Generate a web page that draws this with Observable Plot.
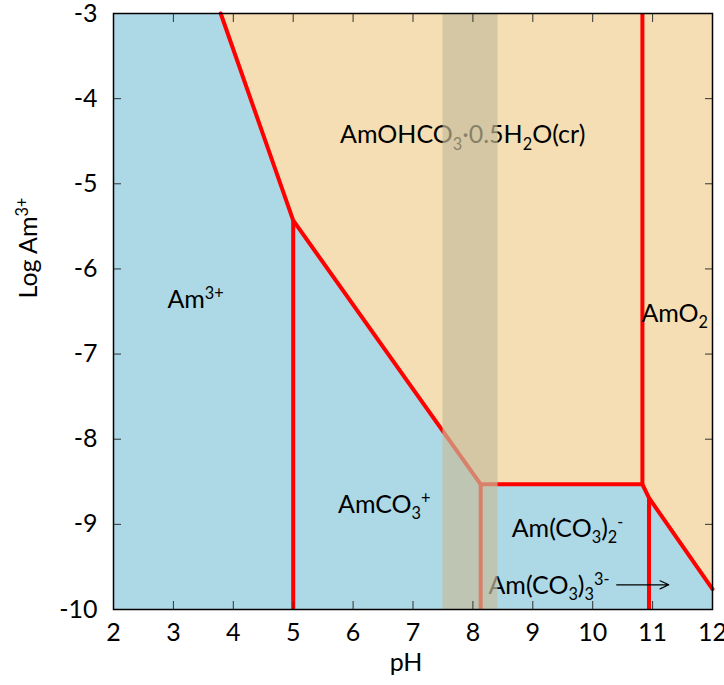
<!DOCTYPE html>
<html><head><meta charset="utf-8">
<script src="https://cdn.jsdelivr.net/npm/d3@7"></script>
<script src="https://cdn.jsdelivr.net/npm/@observablehq/plot@0.6"></script>
<style>body{margin:0;background:#fff;}</style>
</head><body><div id="chart"></div>
<script>
// Axis ticks
const xTicks = [2, 3, 4, 5, 6, 7, 8, 9, 10, 11, 12];
const yTicks = [-3, -4, -5, -6, -7, -8, -9, -10];

// Solubility boundary (red polyline)
const boundaryPH  = [3.79, 5.0, 8.13, 10.83, 10.94, 12.0];
const boundaryLog = [-3, -5.43, -8.53, -8.53, -8.69, -9.76];

// Vertical predominance dividers
const dividerPH     = [5.0, 8.13, 10.83, 10.94];
const dividerTop    = [-5.43, -8.53, -3, -8.69];
const dividerBottom = [-10, -10, -8.53, -10];

// Shaded pH band
const bandPH = [7.5, 8.42];

// Region labels
const labelText = ["AmOHCO_{3}·0.5H_{2}O(cr)", "Am^{3+}", "AmCO_{3}^{+}", "Am(CO_{3})_{2}^{-}", "Am(CO_{3})_{3}^{3-}", "AmO_{2}"];
const labelPH   = [7.83, 3.37, 6.52, 9.58, 9.27, 11.37];
const labelLog  = [-4.43, -6.36, -8.77, -9.05, -9.72, -6.53];

// Arrow
const arrowPH = [10.40, 11.27];
const arrowLog = [-9.71, -9.71];

const boundary = boundaryPH.map((p, i) => ({ph: p, log: boundaryLog[i]}));
const dividers = dividerPH.map((p, i) => ({ph: p, top: dividerTop[i], bottom: dividerBottom[i]}));
const labels = labelText.map((t, i) => ({text: t, ph: labelPH[i], log: labelLog[i]}));
const band = [{x1: bandPH[0], x2: bandPH[1]}];
const arrows = [{x1: arrowPH[0], x2: arrowPH[1], y1: arrowLog[0], y2: arrowLog[1]}];

const FS = 25;
const fmt = d => String(d);

const chart = Plot.plot({
  width: 724,
  height: 685,
  marginLeft: 113,
  marginRight: 12,
  marginTop: 13,
  marginBottom: 76,
  style: {fontFamily: "Lato, 'Open Sans', sans-serif", fontSize: FS + "px", background: "white", overflow: "visible"},
  x: {domain: [2, 12]},
  y: {domain: [-10, -3]},
  marks: [
    Plot.frame({fill: "#add8e6"}),
    Plot.areaY(boundary, {x: "ph", y1: "log", y2: -3, fill: "#f5deb3"}),
    Plot.line(boundary, {x: "ph", y: "log", stroke: "red", strokeWidth: 4, strokeLinejoin: "miter"}),
    Plot.link(dividers, {x1: "ph", x2: "ph", y1: "top", y2: "bottom", stroke: "red", strokeWidth: 4}),
    Plot.text(labels, {x: "ph", y: "log", text: "text", fill: "black", fontSize: FS, textAnchor: "middle"}),
    Plot.rect(band, {x1: "x1", x2: "x2", y1: -10, y2: -3, fill: "rgb(198,188,155)", fillOpacity: 0.68}),
    Plot.arrow(arrows, {x1: "x1", x2: "x2", y1: "y1", y2: "y2", stroke: "black", strokeWidth: 1.2, headLength: 12, headAngle: 50}),
    // inward ticks on all four sides
    Plot.axisX({ticks: xTicks, anchor: "bottom", tickSize: -8, text: null, label: null, stroke: "#333"}),
    Plot.axisX({ticks: xTicks, anchor: "top", tickSize: -8, text: null, label: null, stroke: "#333"}),
    Plot.axisY({ticks: yTicks, anchor: "left", tickSize: -8, text: null, label: null, stroke: "#333"}),
    Plot.axisY({ticks: yTicks, anchor: "right", tickSize: -8, text: null, label: null, stroke: "#333"}),
    // tick labels
    Plot.axisX({ticks: xTicks, anchor: "bottom", tickSize: 0, tickPadding: 14, tickFormat: fmt, label: null, fill: "black", fontSize: FS}),
    Plot.axisY({ticks: yTicks, anchor: "left", tickSize: 0, tickPadding: 16, tickFormat: fmt, label: null, fill: "black", fontSize: FS}),
    Plot.frame({stroke: "black", strokeWidth: 1.5}),
    // axis titles
    Plot.text(["pH"], {frameAnchor: "bottom", text: d => d, dy: 61, dx: -7, fontSize: FS, fill: "black"}),
    Plot.text(["Log Am^{3+}"], {frameAnchor: "left", text: d => d, rotate: -90, dx: -85, dy: -13, fontSize: FS, fill: "black"})
  ]
});

document.getElementById("chart").appendChild(chart);

// Convert _{..} and ^{..} markup into real sub/superscript tspans
function richify(el) {
  const s = el.textContent;
  if (!/[_^]\{/.test(s)) return;
  const fs = parseFloat(getComputedStyle(el).fontSize) || FS;
  el.textContent = "";
  const re = /([_^])\{([^}]*)\}/g;
  let last = 0, m, cur = 0;
  const add = (str, target, small) => {
    if (!str) return;
    const t = document.createElementNS("http://www.w3.org/2000/svg", "tspan");
    t.setAttribute("dy", (target - cur).toFixed(2));
    if (small) t.setAttribute("font-size", (fs * 0.65).toFixed(1));
    t.textContent = str;
    el.appendChild(t);
    cur = target;
  };
  while ((m = re.exec(s))) {
    add(s.slice(last, m.index), 0, false);
    add(m[2], m[1] === "_" ? fs * 0.25 : -fs * 0.36, true);
    last = re.lastIndex;
  }
  add(s.slice(last), 0, false);
}
chart.querySelectorAll("text").forEach(richify);
</script>
</body></html>
